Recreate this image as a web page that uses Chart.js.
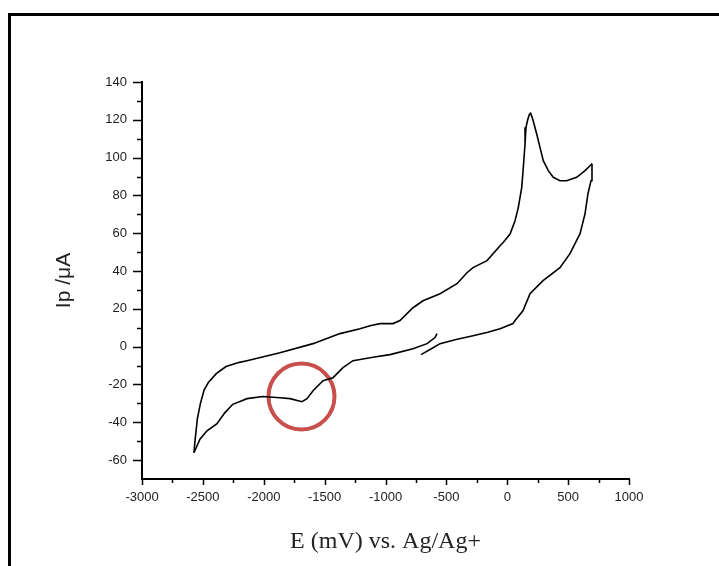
<!DOCTYPE html>
<html>
<head>
<meta charset="utf-8">
<script src="https://cdn.jsdelivr.net/npm/chart.js@4"></script>
<style>
  html, body { margin: 0; padding: 0; background: #fff; overflow: hidden; }
  #wrap { position: relative; width: 719px; height: 566px; }
  #frame { position: absolute; left: 8px; top: 13px; width: 800px; height: 700px;
           border: 3px solid #000; pointer-events: none; }
  canvas { position: absolute; left: 0; top: 0; }
</style>
</head>
<body>
<div id="wrap">
  <canvas id="cv" width="719" height="566"></canvas>
  <div id="frame"></div>
</div>
<script>
// potential (mV) and current (uA)
// first sweep: start -> positive vertex
const sweep1E = [-708, -620, -552, -420, -281, -160, -59, 47, 64, 129, 187, 294, 433, 515, 598, 639, 663, 688, 696];
const sweep1I = [-4.2, -1.0, 1.6, 3.8, 5.8, 7.6, 9.5, 12.2, 13.8, 19.0, 28.0, 34.9, 41.8, 49.2, 59.8, 70.4, 80.9, 87.8, 96.8];

// reverse sweep: positive vertex -> negative vertex
const sweep2E = [696, 680, 639, 570, 488, 433, 378, 337, 296, 269, 242, 213, 200, 192, 181, 168, 154, 146, 132, 119, 91, 64, 23, -32, -59,
  -166, -281, -331, -413, -552, -692, -774, -881, -938, -1045, -1127, -1209, -1374, -1595, -1867, -2138, -2200, -2310, -2390,
  -2455, -2490, -2520, -2545, -2565, -2573];
const sweep2I = [96.8, 95.7, 93.1, 89.6, 87.8, 87.8, 89.6, 93.1, 98.4, 105.4, 112.5, 119.5, 122.2, 123.5, 122.7, 120.0, 116.0, 107.2, 94.8, 84.3, 73.7, 66.6, 59.6, 55.2, 53.4,
  45.5, 41.8, 39.1, 33.3, 28.0, 24.3, 20.6, 13.8, 12.2, 12.2, 11.1, 9.5, 6.9, 1.6, -3.2, -7.4, -8.3, -10.5, -14.3,
  -19.0, -23.0, -30.0, -38.0, -50.0, -56.1];

// return sweep: negative vertex -> end
const sweep3E = [-2573, -2524, -2466, -2384, -2320, -2255, -2195, -2138, -2006, -1867, -1784, -1686, -1645, -1595, -1513, -1431, -1349, -1267, -1209, -1090, -963, -774, -659, -593, -577];
const sweep3I = [-56.1, -49.0, -44.5, -40.7, -35.0, -30.5, -29.0, -27.5, -26.4, -27.0, -27.5, -29.1, -27.5, -23.3, -18.0, -16.4, -11.1, -7.4, -6.8, -5.5, -4.2, -1.1, 1.6, 4.8, 6.9];

// highlighted reduction feature (red circle)
const markE = [-1690];
const markI = [-26.4];

const xMin = -3000, xMax = 1000, xMajor = 500, xMinor = 250;
const yMin = -70, yMax = 140, yMajor = 20, yMinor = 10;

function pts(e, i) {
  return e.map((v, k) => ({ x: v, y: i[k] }));
}

const tickFont = { family: 'Liberation Sans', size: 13 };

// outward major/minor tick marks
const axisTicks = {
  id: 'axisTicks',
  afterDraw(chart) {
    const ctx = chart.ctx;
    const area = chart.chartArea;
    const xs = chart.scales.x, ys = chart.scales.y;
    ctx.save();
    ctx.strokeStyle = '#000';
    ctx.lineWidth = 1.5;
    ctx.beginPath();
    for (let v = xMin; v <= xMax; v += xMinor) {
      const px = Math.round(xs.getPixelForValue(v)) + 0.5;
      const len = v % xMajor === 0 ? 6 : 4;
      ctx.moveTo(px, area.bottom);
      ctx.lineTo(px, area.bottom + len);
    }
    for (let v = yMin + 10; v <= yMax; v += yMinor) {
      const py = Math.round(ys.getPixelForValue(v)) + 0.5;
      const len = v % yMajor === 0 ? 9 : 5;
      ctx.moveTo(area.left - len, py);
      ctx.lineTo(area.left, py);
    }
    ctx.stroke();
    ctx.restore();
  }
};

const lineStyle = {
  showLine: true, pointRadius: 0, borderColor: '#000', borderWidth: 1.6,
  backgroundColor: '#000', tension: 0
};

new Chart(document.getElementById('cv'), {
  type: 'scatter',
  data: {
    datasets: [
      Object.assign({ data: pts(sweep1E, sweep1I) }, lineStyle),
      Object.assign({ data: pts(sweep2E, sweep2I) }, lineStyle),
      Object.assign({ data: pts(sweep3E, sweep3I) }, lineStyle),
      {
        data: pts(markE, markI), showLine: false, pointRadius: 33, pointHoverRadius: 33,
        borderColor: '#c8504c', borderWidth: 4, backgroundColor: 'rgba(0,0,0,0)'
      }
    ]
  },
  options: {
    responsive: false,
    devicePixelRatio: 1,
    animation: false,
    events: [],
    layout: { padding: { left: 0, top: 82, right: 90, bottom: 0 } },
    plugins: { legend: { display: false }, tooltip: { enabled: false } },
    scales: {
      x: {
        type: 'linear', min: xMin, max: xMax,
        grid: { display: true, drawOnChartArea: false, drawTicks: false, color: 'rgba(0,0,0,0)' },
        border: { display: true, color: '#000', width: 2 },
        ticks: { stepSize: xMajor, autoSkip: false, maxRotation: 0, padding: 11, color: '#222', font: tickFont,
                 callback: v => String(v) },
        title: {
          display: true, text: 'E (mV) vs. Ag/Ag+', color: '#222',
          font: { family: 'Liberation Serif', size: 24 }, padding: { top: 0, bottom: 10 }
        },
        afterFit(s) { s.height = 87; }
      },
      y: {
        type: 'linear', min: yMin, max: yMax,
        grid: { display: true, drawOnChartArea: false, drawTicks: false, color: 'rgba(0,0,0,0)' },
        border: { display: true, color: '#000', width: 2 },
        ticks: { stepSize: yMajor, autoSkip: false, padding: 15, color: '#222', font: tickFont,
                 callback: v => String(v) },
        afterBuildTicks(s) { s.ticks = s.ticks.filter(t => t.value % yMajor === 0); },
        title: {
          display: true, text: 'Ip /\u03bcA', color: '#222',
          font: { family: 'Liberation Sans', size: 21 }, padding: { top: 52, bottom: 0 }
        },
        afterFit(s) { s.width = 142; }
      }
    }
  },
  plugins: [axisTicks]
});
</script>
</body>
</html>
